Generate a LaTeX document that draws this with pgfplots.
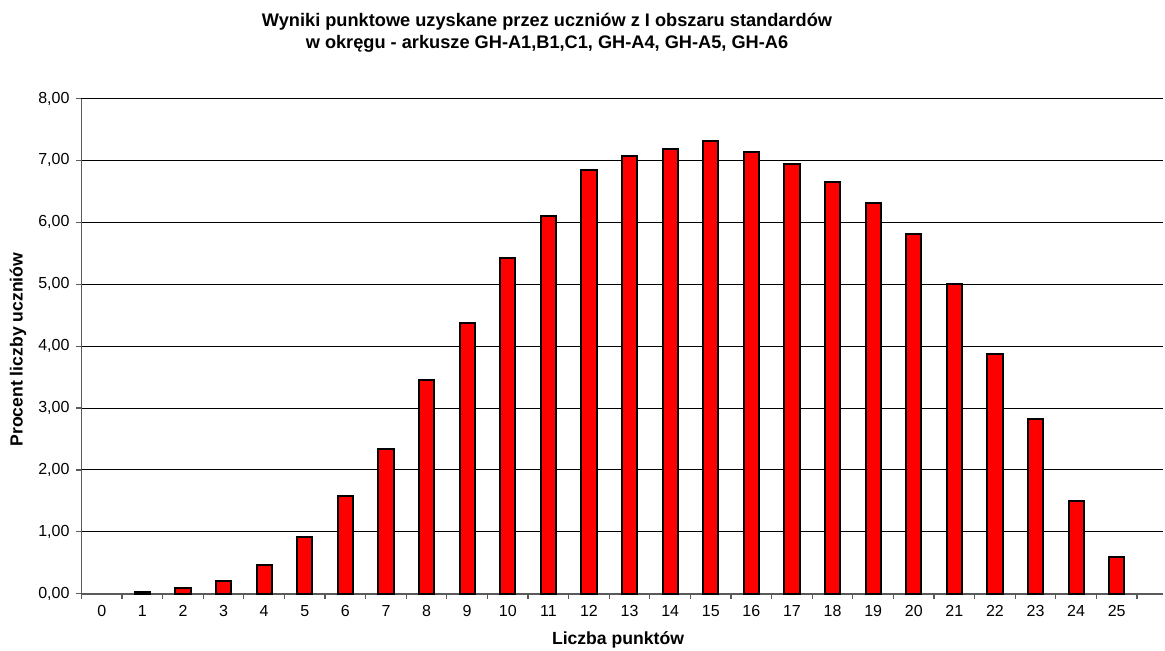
\documentclass[border=0pt]{standalone}
\usepackage{pgfplots}
\pgfplotsset{compat=1.18}
\usepackage{fontspec}
\setmainfont{Liberation Sans}
\definecolor{barred}{RGB}{255,0,0}
\definecolor{axgray}{RGB}{90,90,90}
\begin{document}
\begin{tikzpicture}
\useasboundingbox (-40.75pt,-28.15pt) rectangle (541.75pt,296.85pt);
\begin{axis}[
  at={(0pt,0pt)}, anchor=south west,
  scale only axis,
  width=540.75pt, height=247.6pt,
  xmin=-0.5, xmax=26.14,
  ymin=0, ymax=8,
  axis x line=bottom, axis y line=left,
  axis line style={-, draw=axgray, line width=0.8pt},
  xtick={0,...,25},
  xticklabels={0,1,2,3,4,5,6,7,8,9,10,11,12,13,14,15,16,17,18,19,20,21,22,23,24,25},
  major x tick style={draw=none},
  minor xtick={-0.5,0.5,...,25.5},
  minor x tick style={draw=axgray, line width=0.6pt},
  ytick={0,1,...,8},
  major y tick style={draw=axgray, line width=0.6pt},
  tick align=outside,
  major tick length=2.5pt, minor tick length=2.5pt,
  ymajorgrids,
  grid style={black, line width=0.5pt},
  yticklabel style={/pgf/number format/.cd, fixed, fixed zerofill, precision=2, use comma, /tikz/.cd, font=\fontsize{8}{9.6}\selectfont},
  xticklabel style={font=\fontsize{8}{9.6}\selectfont},
  /pgf/number format/assume math mode=true,
  ybar, bar width=7.6pt,
  clip=false,
]
\addplot[fill=barred, draw=black, line width=1pt] coordinates {
  (1,0.02) (2,0.09) (3,0.21) (4,0.47) (5,0.92) (6,1.58) (7,2.33) (8,3.46)
  (9,4.38) (10,5.43) (11,6.10) (12,6.84) (13,7.07) (14,7.19) (15,7.31)
  (16,7.14) (17,6.95) (18,6.65) (19,6.31) (20,5.81) (21,5.00) (22,3.88)
  (23,2.82) (24,1.49) (25,0.59)
};
\end{axis}
\node[align=center, font=\fontsize{9.1}{11}\selectfont\bfseries] at (232.75pt,280.35pt)
  {Wyniki punktowe uzyskane przez uczniów z I obszaru standardów\\w okręgu - arkusze GH-A1,B1,C1, GH-A4, GH-A5, GH-A6};
\node[font=\fontsize{8.8}{10}\selectfont\bfseries] at (268.25pt,-23.15pt) {Liczba punktów};
\node[rotate=90, font=\fontsize{8.8}{10}\selectfont\bfseries] at (-31.75pt,122pt) {Procent liczby uczniów};
\end{tikzpicture}
\end{document}
